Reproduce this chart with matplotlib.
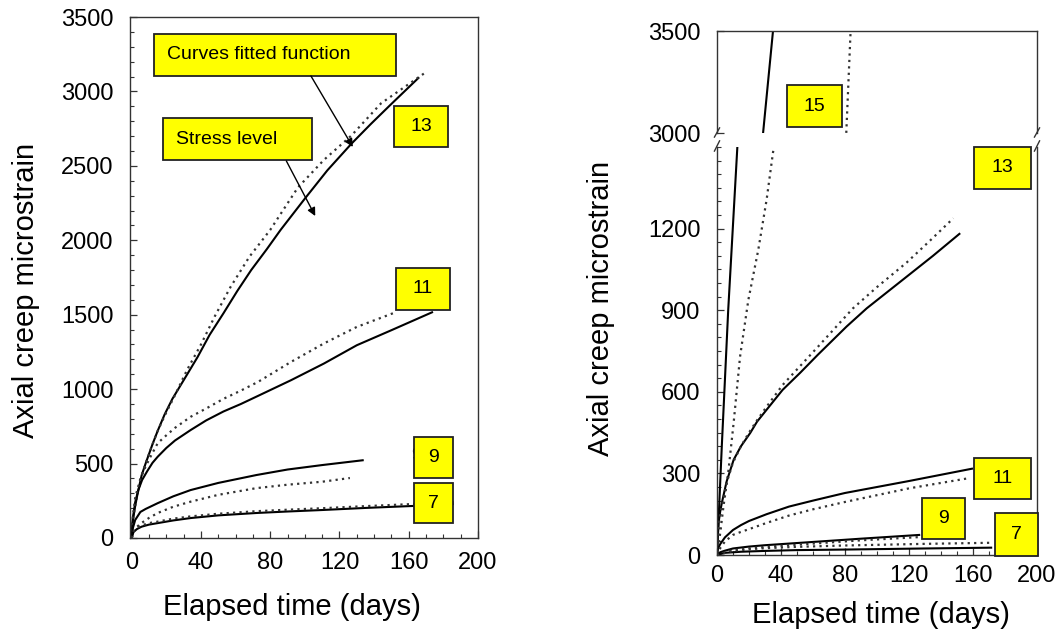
import matplotlib
matplotlib.use("Agg")
import matplotlib.pyplot as plt
from matplotlib.patches import Rectangle
from matplotlib.ticker import MultipleLocator

plt.rcParams['font.family'] = ['Liberation Sans', 'DejaVu Sans']

# ---------------- data: left panel ----------------
L13_fit_t = [0, 0.5, 1, 2, 3.5, 5.7, 8, 10, 12, 15, 19, 23.5, 30.5, 38, 45, 53, 61, 69, 78, 86, 100, 113, 127, 138, 149, 166]
L13_fit_v = [0, 95, 145, 215, 305, 420, 500, 565, 630, 720, 830, 935, 1070, 1215, 1365, 1510, 1660, 1800, 1940, 2070, 2280, 2470, 2650, 2780, 2905, 3095]
L13_obs_t = [0, 0.5, 1, 2, 3.5, 5.7, 8, 10, 12, 15, 20, 25, 32, 40, 48, 57, 68, 80, 96, 111, 127, 144, 170]
L13_obs_v = [0, 95, 145, 215, 305, 420, 500, 565, 630, 720, 845, 960, 1130, 1300, 1490, 1685, 1890, 2070, 2355, 2540, 2705, 2920, 3130]

L11_fit_t = [0, 0.5, 2, 3.8, 6, 9, 12, 15, 20, 25, 34, 43, 53, 63, 73, 92, 111, 130, 150, 174]
L11_fit_v = [0, 120, 240, 322, 390, 450, 505, 546, 605, 655, 725, 790, 850, 900, 955, 1060, 1172, 1295, 1396, 1519]
L11_obs_t = [0, 0.5, 2, 5, 8, 11, 15, 20, 25, 34, 43, 53, 63, 73, 92, 111, 130, 153]
L11_obs_v = [0, 130, 270, 400, 480, 550, 637, 690, 740, 814, 870, 935, 990, 1049, 1183, 1307, 1418, 1519]

L9_fit_t = [0, 0.5, 2, 5, 8, 15, 24, 34, 50, 72, 90, 110, 134]
L9_fit_v = [0, 60, 121, 175, 195, 234, 280, 322, 370, 423, 460, 490, 523]
L9_obs_t = [0, 1, 3, 5.7, 10, 15, 24, 34, 50, 72, 90, 110, 126]
L9_obs_v = [0, 40, 75, 101, 135, 168, 210, 244, 290, 335, 358, 378, 403]

L7_fit_t = [0, 1, 3, 5.7, 10, 15, 24, 34, 50, 72, 90, 110, 135, 162, 186]
L7_fit_v = [0, 40, 60, 76, 90, 100, 118, 134, 152, 168, 178, 188, 202, 215, 228]
L7_obs_t = [0, 1, 3, 5.7, 10, 15, 24, 34, 50, 72, 90, 110, 135, 162, 186]
L7_obs_v = [0, 45, 68, 85, 100, 110, 130, 145, 163, 180, 190, 200, 214, 228, 240]

# ---------------- data: right panel ----------------
R15_fit_t = [0, 3, 7, 12.7, 28.8, 35]
R15_fit_v = [0, 400, 900, 1498, 3000, 3500]
R15_obs_t = [0, 2, 4, 7, 10.4, 14.4, 19.6, 25.8, 31, 35, 80.8, 83.5]
R15_obs_v = [0, 80, 177, 302, 486, 729, 938, 1122, 1306, 1480, 3000, 3500]

R13_fit_t = [0, 0.5, 1, 2, 3, 6, 10.4, 15, 20.8, 25, 31, 41, 52, 63, 81, 93.6, 118.5, 135, 152]
R13_fit_v = [0, 70, 120, 160, 191, 270, 350, 400, 449, 490, 534, 607, 670, 736, 840, 907, 1023, 1100, 1183]
R13_obs_t = [0, 0.5, 1, 2, 3, 6, 10, 15, 20, 25, 31, 41, 52, 63, 85, 100, 118.5, 133, 147.7]
R13_obs_v = [0, 60, 105, 150, 180, 265, 340, 400, 450, 495, 545, 625, 695, 765, 907, 985, 1075, 1155, 1238]

R11_fit_t = [0, 0.5, 1, 2, 5, 10, 15, 20, 31, 45, 60, 80, 100, 120, 140, 160]
R11_fit_v = [0, 20, 28, 40, 65, 92, 110, 125, 150, 178, 200, 228, 250, 272, 295, 318]
R11_obs_t = [0, 1, 2, 5, 10, 15, 20, 31, 45, 60, 80, 100, 120, 140, 158]
R11_obs_v = [0, 15, 25, 50, 74, 85, 95, 118, 145, 168, 195, 220, 245, 265, 283]

R9_fit_t = [0, 2, 5, 10, 20, 30, 45, 60, 90, 127]
R9_fit_v = [0, 10, 16, 24, 31, 36, 42, 48, 60, 74]
R9_obs_t = [0, 5, 10, 20, 30, 45, 60, 90, 127]
R9_obs_v = [0, 10, 18, 25, 30, 36, 42, 54, 66]

R7_fit_t = [0, 5, 15, 30, 50, 80, 130, 172]
R7_fit_v = [0, 8, 12, 15, 18, 20, 24, 27]
R7_obs_t = [0, 10, 20, 30, 50, 80, 130, 172]
R7_obs_v = [0, 15, 21, 25, 30, 35, 41, 45]

x_ticks = [0, 40, 80, 120, 160, 200]
left_y_ticks = [0, 500, 1000, 1500, 2000, 2500, 3000, 3500]
right_low_ticks = [0, 300, 600, 900, 1200]
right_up_ticks = [3000, 3500]

# ---------------- styles ----------------
SOLID = dict(color='black', lw=1.5, solid_capstyle='butt', solid_joinstyle='round')
DOT = dict(color='#333333', lw=1.6, linestyle=(0, (1, 1.9)), dash_capstyle='butt')
BOXF = '#ffff00'
TICKFS = 17
LABFS = 21
BOXFS = 14

fig = plt.figure(figsize=(10.56, 6.35), dpi=100)
W, H = 1056, 635


def ax_px(x0, y0, x1, y1):
    return fig.add_axes([x0 / W, 1 - y1 / H, (x1 - x0) / W, (y1 - y0) / H])


def style(ax, xmin=10, ymin=100):
    for s in ax.spines.values():
        s.set_color('#333333')
        s.set_linewidth(1.0)
    ax.tick_params(direction='in', which='both', top=False, right=False,
                   labelsize=TICKFS, color='#333333')
    ax.tick_params(which='major', length=5, width=0.9)
    ax.tick_params(which='minor', length=3, width=0.8)
    ax.xaxis.set_minor_locator(MultipleLocator(xmin))
    ax.yaxis.set_minor_locator(MultipleLocator(ymin))


def box(ax, x0, x1, y0, y1, txt, tx=None, ha='center'):
    ax.add_patch(Rectangle((x0, y0), x1 - x0, y1 - y0, facecolor=BOXF,
                           edgecolor='#222222', lw=1.3, clip_on=False, zorder=5))
    if tx is None:
        tx = (x0 + x1) / 2
    ax.text(tx, (y0 + y1) / 2, txt, ha=ha, va='center', fontsize=BOXFS,
            zorder=6, clip_on=False)


# ---------------- left panel ----------------
axL = ax_px(130, 17, 478, 538)
axL.set_xlim(-1, 199)
axL.set_ylim(0, 3500)
style(axL, 10, 100)
axL.set_xticks(x_ticks)
axL.set_yticks(left_y_ticks)
axL.tick_params(axis='y', pad=12)
axL.tick_params(axis='x', pad=10)

for ft, fv, ot, ov in [(L13_fit_t, L13_fit_v, L13_obs_t, L13_obs_v),
                       (L11_fit_t, L11_fit_v, L11_obs_t, L11_obs_v),
                       (L9_fit_t, L9_fit_v, L9_obs_t, L9_obs_v),
                       (L7_fit_t, L7_fit_v, L7_obs_t, L7_obs_v)]:
    axL.plot(ft, fv, **SOLID)
    axL.plot(ot, ov, **DOT)

axL.text(164.5, 557, '9', fontsize=BOXFS, ha='center', va='center', zorder=4)
box(axL, 12.8, 152.5, 3104, 3386, 'Curves fitted function', tx=20.3, ha='left')
box(axL, 18, 104.2, 2539, 2821, 'Stress level', tx=25.5, ha='left')
box(axL, 151.3, 182.9, 2627, 2902, '13')
box(axL, 152.5, 184.1, 1532, 1814, '11')
box(axL, 162.8, 185.8, 403, 678, '9')
box(axL, 162.8, 185.8, 101, 369, '7')
arrow = dict(arrowstyle='-|>', color='black', lw=1.0, mutation_scale=12,
             shrinkA=0, shrinkB=0)
axL.annotate('', xy=(127.7, 2627), xytext=(103.5, 3104), arrowprops=arrow, zorder=7)
axL.annotate('', xy=(106, 2163), xytext=(89.3, 2533), arrowprops=arrow, zorder=7)

fig.text(26 / W, 1 - 290 / H, 'Axial creep microstrain', rotation=90,
         ha='center', va='center', fontsize=LABFS)
fig.text(292 / W, 1 - 607 / H, 'Elapsed time (days)', ha='center',
         va='center', fontsize=LABFS)

# ---------------- right panel (broken axis) ----------------
axU = ax_px(717, 31, 1037, 133)
axD = ax_px(717, 147, 1037, 555)
for ax in (axU, axD):
    ax.set_xlim(0, 200)
    style(ax, 10, 50)
    ax.set_xticks(x_ticks)
    ax.tick_params(axis='y', pad=12)
axU.set_ylim(3000, 3500)
axD.set_ylim(0, 1500)
axU.set_yticks(right_up_ticks)
axD.set_yticks(right_low_ticks)
axU.yaxis.set_minor_locator(MultipleLocator(100))
axU.spines['bottom'].set_visible(False)
axD.spines['top'].set_visible(False)
axU.tick_params(axis='x', which='both', bottom=False, labelbottom=False)
axU.tick_params(axis='y', which='minor', left=False)
axD.tick_params(axis='x', pad=7)

for ax in (axU, axD):
    for ft, fv, ot, ov in [(R15_fit_t, R15_fit_v, R15_obs_t, R15_obs_v),
                           (R13_fit_t, R13_fit_v, R13_obs_t, R13_obs_v),
                           (R11_fit_t, R11_fit_v, R11_obs_t, R11_obs_v),
                           (R9_fit_t, R9_fit_v, R9_obs_t, R9_obs_v),
                           (R7_fit_t, R7_fit_v, R7_obs_t, R7_obs_v)]:
        ax.plot(ft, fv, **SOLID)
        ax.plot(ot, ov, **DOT)

# break marks
bk = dict(color='#333333', lw=1.0, clip_on=False)
for xa in (0, 1):
    axU.plot([xa - 0.008, xa + 0.008], [-0.04, 0.05], transform=axU.transAxes, **bk)
    axD.plot([xa - 0.008, xa + 0.008], [0.99, 1.015], transform=axD.transAxes, **bk)

box(axU, 43.75, 78.1, 3029, 3235, '15')
box(axD, 160.6, 196.3, 1346, 1500, '13')
box(axD, 160.6, 196.3, 206, 357, '11')
box(axD, 128.1, 155, 59, 210, '9')
box(axD, 173.8, 200.6, -4, 154, '7')

fig.text(601 / W, 1 - 308 / H, 'Axial creep microstrain', rotation=90,
         ha='center', va='center', fontsize=LABFS)
fig.text(881 / W, 1 - 615 / H, 'Elapsed time (days)', ha='center',
         va='center', fontsize=LABFS)

fig.savefig('out.png', dpi=100)
